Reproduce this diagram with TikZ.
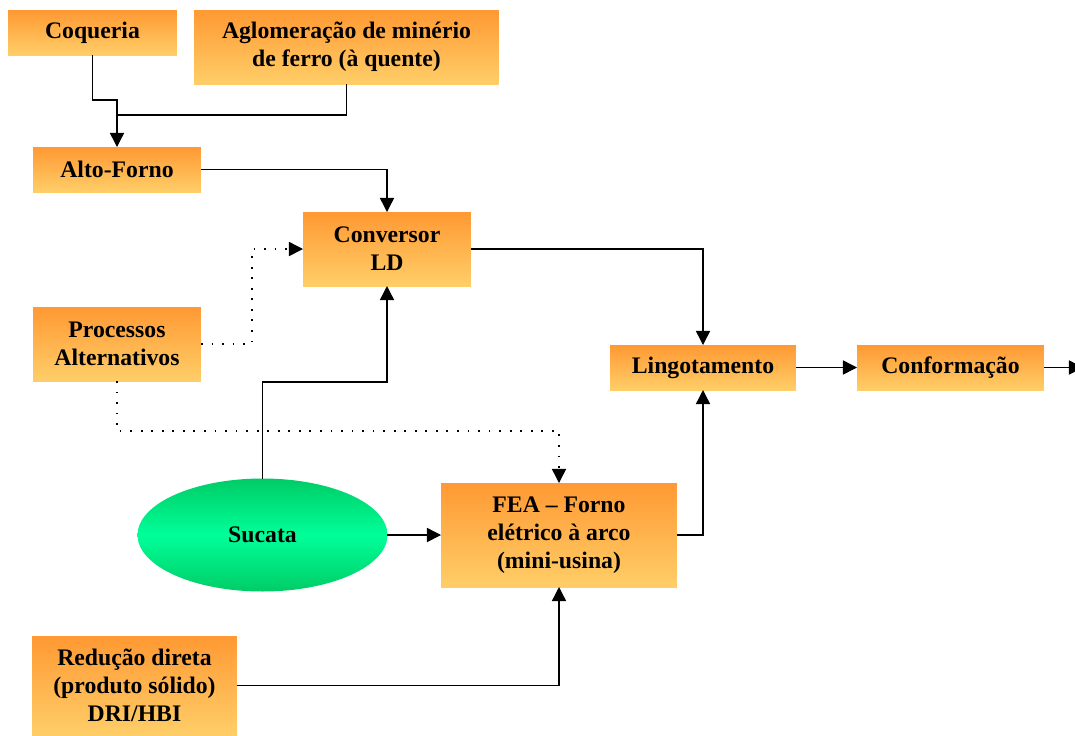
\documentclass[tikz,border=0pt]{standalone}
\usepackage{fontspec}
\setmainfont{Liberation Serif}
\usepackage{xcolor}
\usetikzlibrary{arrows.meta}
\usetikzlibrary{shapes.geometric}

\definecolor{boxtop}{RGB}{255,153,51}
\definecolor{boxbot}{RGB}{255,206,104}
\definecolor{sucedge}{RGB}{0,204,102}
\definecolor{sucmid}{RGB}{0,255,153}

\begin{document}
\begin{tikzpicture}[x=0.02cm,y=-0.02cm]
	%\draw[help lines] (0,0) grid (1075,735);
	\useasboundingbox (0,0) rectangle (1075,735);
	
	\tikzstyle{pbox} = [rectangle,inner sep=0pt,outer sep=0pt,top color=boxtop,bottom color=boxbot,align=center,font=\fontsize{13.5}{16}\selectfont\bfseries,minimum height=0.9cm]
	\tikzstyle{sbox} = [ellipse,inner sep=0pt,outer sep=0pt,top color=sucedge,bottom color=sucedge,middle color=sucmid,font=\fontsize{13.5}{16}\selectfont\bfseries,minimum width=5cm,minimum height=2.26cm]
	\tikzstyle{pedge} = [-{Triangle[length=8pt,width=8pt]},line width=0.8pt]
	\tikzstyle{pline} = [line width=0.8pt]
	\tikzstyle{dedge} = [-{Triangle[length=8pt,width=8pt]},line width=0.8pt,dash pattern=on 1pt off 5pt]
	
	\node[pbox,minimum width=3.38cm] (coq) at (92.5,32.5) {Coqueria};
	\node[pbox,minimum width=6.1cm,minimum height=1.48cm] (aglo) at (346.5,47) {Aglomeração de minério\\de ferro (à quente)};
	\node[pbox,minimum width=3.36cm] (alto) at (117,169.5) {Alto-Forno};
	\node[pbox,minimum width=3.36cm,minimum height=1.48cm] (conv) at (387,249) {Conversor\\LD};
	\node[pbox,minimum width=3.36cm,minimum height=1.48cm] (proc) at (117,344) {Processos\\Alternativos};
	\node[pbox,minimum width=3.72cm] (lingo) at (703,367.5) {Lingotamento};
	\node[pbox,minimum width=3.74cm] (conf) at (950.5,367.5) {Conformação};
	\node[sbox] (suc) at (262.5,535) {Sucata};
	\node[pbox,minimum width=4.72cm,minimum height=2.08cm] (fea) at (559,535) {FEA -- Forno\\elétrico à arco\\(mini-usina)};
	\node[pbox,minimum width=4.1cm,minimum height=1.98cm] (red) at (134.5,685.5) {Redução direta\\(produto sólido)\\DRI/HBI};
	
	\coordinate (j1) at (117,100);
	\coordinate (j2) at (117,115);
	\coordinate (j3) at (387,382);
	\coordinate (j4) at (252,344);
	\coordinate (j5) at (559,431);
	\coordinate (out) at (1083,367.5);
	
	\draw[pline] (aglo) |- (j2);
	\draw[pedge] (coq) |- (j1) -- (alto);
	\draw[pedge] (alto) -| (conv);
	\draw[pedge] (conv) -| (lingo);
	\draw[pedge] (suc) |- (j3) -- (conv);
	\draw[dedge] (proc) -- (j4) |- (conv);
	\draw[dedge] (proc) |- (j5) -- (fea);
	\draw[pedge] (suc) -- (fea);
	\draw[pedge] (fea) -| (lingo);
	\draw[pedge] (red) -| (fea);
	\draw[pedge] (lingo) -- (conf);
	\draw[pedge] (conf) -- (out);

\end{tikzpicture}
\end{document}
